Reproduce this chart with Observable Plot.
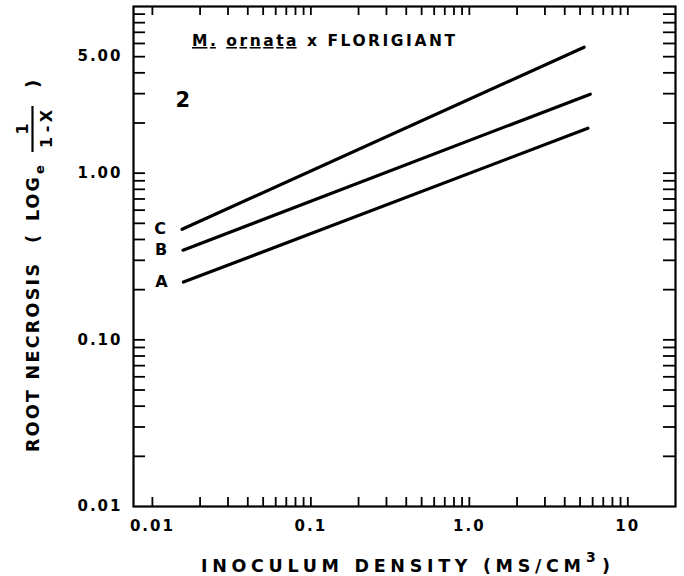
<!DOCTYPE html>
<html><head><meta charset="utf-8">
<script src="https://cdn.jsdelivr.net/npm/d3@7"></script>
<script src="https://cdn.jsdelivr.net/npm/@observablehq/plot@0.6"></script>
<style>
html,body{margin:0;padding:0;background:#fff;}
#chart svg{display:block;}
</style></head><body><div id="chart"></div>
<script>
// ---- data ----
const seriesNames = ["A", "B", "C"];
const startDensity = [0.0157, 0.0156, 0.0154];
const endDensity = [5.6, 5.8, 5.3];
const startNecrosis = [0.222, 0.345, 0.461];
const endNecrosis = [1.86, 2.98, 5.70];

const xTickValues = [0.01, 0.1, 1, 10];
const xTickLabels = ["0.01", "0.1", "1.0", "10"];
const xMinorTicks = [0.01, 0.02, 0.03, 0.04, 0.05, 0.06, 0.07, 0.08, 0.09,
  0.1, 0.2, 0.3, 0.4, 0.5, 0.6, 0.7, 0.8, 0.9,
  1, 2, 3, 4, 5, 6, 7, 8, 9, 10];
const yTickValues = [0.01, 0.1, 1, 5];
const yTickLabels = ["0.01", "0.10", "1.00", "5.00"];
const yMinorTicks = [0.02, 0.03, 0.04, 0.05, 0.06, 0.07, 0.08, 0.09,
  0.1, 0.2, 0.3, 0.4, 0.5, 0.6, 0.7, 0.8, 0.9,
  1, 2, 3, 4, 5, 6, 7, 8, 9];

const titleParts = [["M.", true], [" ", false], ["ornata", true], [" x FLORIGIANT", false]];
const panelNumber = "2";
const xLabelMain = "INOCULUM DENSITY (MS/CM";
const xLabelSup = "3";
const xLabelEnd = ")";

// ---- build rows ----
const rows = seriesNames.flatMap((s, i) => [
  {series: s, density: startDensity[i], necrosis: startNecrosis[i]},
  {series: s, density: endDensity[i], necrosis: endNecrosis[i]}
]);
const starts = seriesNames.map((s, i) => ({series: s, density: startDensity[i], necrosis: startNecrosis[i]}));

const FONT = "'DejaVu Sans', sans-serif";
const W = 684, H = 576, mL = 133, mR = 9, mT = 6, mB = 70;
const innerW = W - mL - mR, innerH = H - mT - mB;
const tickLenX = 9, tickLenY = 12;

const plot = Plot.plot({
  width: W, height: H,
  marginLeft: mL, marginRight: mR, marginTop: mT, marginBottom: mB,
  style: {fontFamily: FONT, background: "#fff", color: "#000", overflow: "visible"},
  x: {type: "log", domain: [0.0076, 20]},
  y: {type: "log", domain: [0.01, 10]},
  marks: [
    Plot.tickX(xMinorTicks, {x: d => d, insetTop: innerH - tickLenX, stroke: "#000", strokeWidth: 1.8}),
    Plot.tickX(xMinorTicks, {x: d => d, insetBottom: innerH - tickLenX, stroke: "#000", strokeWidth: 1.8}),
    Plot.tickY(yMinorTicks, {y: d => d, insetRight: innerW - tickLenY, stroke: "#000", strokeWidth: 1.8}),
    Plot.tickY(yMinorTicks, {y: d => d, insetLeft: innerW - tickLenY, stroke: "#000", strokeWidth: 1.8}),
    Plot.axisX(xTickValues, {anchor: "bottom", tickSize: 0, tickPadding: 14,
      tickFormat: d => xTickLabels[xTickValues.indexOf(d)], fontSize: 15, fontWeight: "bold", label: null}),
    Plot.axisY(yTickValues, {anchor: "left", tickSize: 0, tickPadding: 11,
      tickFormat: d => yTickLabels[yTickValues.indexOf(d)], fontSize: 15, fontWeight: "bold", label: null}),
    Plot.frame({stroke: "#000", strokeWidth: 2.2}),
    Plot.line(rows, {x: "density", y: "necrosis", z: "series", stroke: "#000", strokeWidth: 3.2}),
    Plot.text(starts, {x: "density", y: "necrosis", text: "series", dx: -21, fontSize: 16, fontWeight: "bold"}),
    Plot.text([panelNumber], {frameAnchor: "top-left", dx: 42, dy: 86, fontSize: 21, fontWeight: "bold"})
  ]
});
document.getElementById("chart").appendChild(plot);

const svg = d3.select(plot);
svg.selectAll("text").attr("letter-spacing", 2);

// title with underlined species name
const t = svg.append("text")
  .attr("x", 192).attr("y", 46).attr("text-anchor", "start")
  .attr("font-family", FONT).attr("font-weight", "bold").attr("font-size", 15.5)
  .attr("textLength", 263).attr("lengthAdjust", "spacing");
titleParts.forEach(([s, u]) => {
  const sp = t.append("tspan").text(s);
  if (u) sp.style("text-decoration", "underline");
});

// x axis label
const xl = svg.append("g").attr("font-family", FONT).attr("font-weight", "bold")
  .attr("fill", "#000").attr("text-anchor", "start");
xl.append("text").attr("x", 201).attr("y", 572).attr("font-size", 17.5)
  .attr("textLength", 380).attr("lengthAdjust", "spacing").text(xLabelMain);
xl.append("text").attr("x", 586).attr("y", 562).attr("font-size", 14).text(xLabelSup);
xl.append("text").attr("x", 602).attr("y", 572).attr("font-size", 17.5).text(xLabelEnd);

// y axis label (rotated) with fraction
const yl = svg.append("g").attr("transform", "translate(39,452) rotate(-90)")
  .attr("font-family", FONT).attr("font-weight", "bold").attr("fill", "#000").attr("text-anchor", "start");
yl.append("text").attr("x", 0).attr("y", 0).attr("font-size", 17.5)
  .attr("textLength", 188).attr("lengthAdjust", "spacing").text("ROOT NECROSIS");
yl.append("text").attr("x", 209).attr("y", 0).attr("font-size", 18).text("(");
yl.append("text").attr("x", 231).attr("y", 0).attr("font-size", 17.5)
  .attr("textLength", 44).attr("lengthAdjust", "spacing").text("LOG");
yl.append("text").attr("x", 278).attr("y", 5).attr("font-size", 13).text("e");
yl.append("text").attr("x", 323).attr("y", -11).attr("font-size", 16).attr("text-anchor", "middle").text("1");
yl.append("line").attr("x1", 300).attr("x2", 346).attr("y1", -6.5).attr("y2", -6.5)
  .attr("stroke", "#000").attr("stroke-width", 2.2);
yl.append("text").attr("x", 323).attr("y", 13).attr("font-size", 16).attr("text-anchor", "middle")
  .attr("textLength", 38).attr("lengthAdjust", "spacing").text("1-X");
yl.append("text").attr("x", 364).attr("y", 0).attr("font-size", 18).text(")");
</script>
</body></html>
